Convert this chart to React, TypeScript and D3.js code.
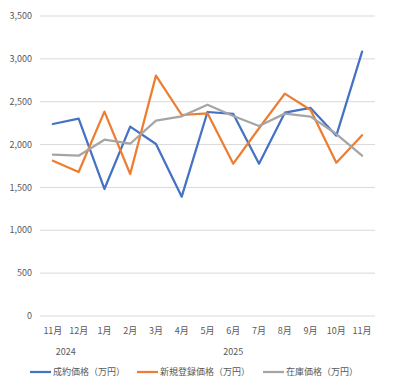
import React from "react";
import * as d3 from "d3";

const months = ["11月", "12月", "1月", "2月", "3月", "4月", "5月", "6月", "7月", "8月", "9月", "10月", "11月"];
const years = [
  { label: "2024", from: 0, to: 1 },
  { label: "2025", from: 2, to: 12 },
];
const seriesNames = ["成約価格（万円）", "新規登録価格（万円）", "在庫価格（万円）"];
const seriesColors = ["#4472C4", "#ED7D31", "#A5A5A5"];
const contractPrice = [2240, 2302, 1482, 2209, 2007, 1392, 2380, 2357, 1777, 2372, 2427, 2104, 3084];
const newListingPrice = [1812, 1680, 2384, 1657, 2804, 2345, 2365, 1777, 2190, 2594, 2403, 1789, 2108];
const stockPrice = [1882, 1870, 2057, 2010, 2279, 2330, 2465, 2333, 2217, 2361, 2326, 2123, 1870];
const yTicks = [0, 500, 1000, 1500, 2000, 2500, 3000, 3500];

const W = 393;
const H = 383;
const left = 40;
const right = 375;
const top = 16;
const bottom = 316;
const font = "'Noto Sans CJK JP', 'Noto Sans', sans-serif";

export default function App() {
  const idx = months.map((_, i) => i);
  const x = d3.scaleBand<number>().domain(idx).range([left, right]);
  const cx = (i: number) => (x(i) as number) + x.bandwidth() / 2;
  const y = d3.scaleLinear().domain([0, 3500]).range([bottom, top]);
  const line = d3
    .line<number>()
    .x((_, i) => cx(i))
    .y((d) => y(d));
  const allSeries = [contractPrice, newListingPrice, stockPrice];
  const legendX = [30, 137, 263];

  return (
    <div style={{ position: "absolute", left: 0, top: 0 }}>
      <svg width={W} height={H} style={{ display: "block", background: "#fff" }}>
        {yTicks.map((t) => (
          <g key={t}>
            <line x1={left} x2={right} y1={y(t)} y2={y(t)} stroke="#D9D9D9" strokeWidth={1} />
            <text
              x={32}
              y={y(t)}
              dy="0.35em"
              textAnchor="end"
              fontFamily={font}
              fontSize={9}
              fill="#595959"
            >
              {d3.format(",")(t)}
            </text>
          </g>
        ))}
        {allSeries.map((s, k) => (
          <path
            key={k}
            d={line(s) as string}
            fill="none"
            stroke={seriesColors[k]}
            strokeWidth={2.25}
            strokeLinejoin="round"
            strokeLinecap="round"
          />
        ))}
        {months.map((m, i) => (
          <text
            key={i}
            x={cx(i)}
            y={331}
            dy="0.35em"
            textAnchor="middle"
            fontFamily={font}
            fontSize={9}
            fill="#595959"
          >
            {m}
          </text>
        ))}
        {years.map((yr) => (
          <text
            key={yr.label}
            x={(cx(yr.from) + cx(yr.to)) / 2}
            y={352}
            dy="0.35em"
            textAnchor="middle"
            fontFamily={font}
            fontSize={9}
            fill="#595959"
          >
            {yr.label}
          </text>
        ))}
        {seriesNames.map((n, k) => (
          <g key={n}>
            <line
              x1={legendX[k]}
              x2={legendX[k] + 21}
              y1={372}
              y2={372}
              stroke={seriesColors[k]}
              strokeWidth={2.25}
            />
            <text
              x={legendX[k] + 23}
              y={372}
              dy="0.35em"
              fontFamily={font}
              fontSize={9}
              fill="#595959"
            >
              {n}
            </text>
          </g>
        ))}
      </svg>
    </div>
  );
}
